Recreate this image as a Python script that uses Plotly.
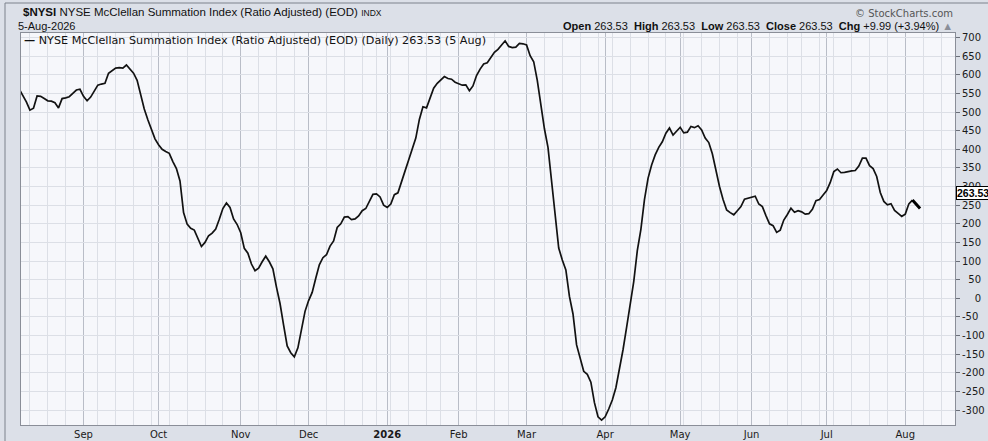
import pandas as pd
import plotly.graph_objects as go

# ---------------- data ----------------
first_day = "2025-08-06"
last_day = "2026-08-05"
holidays = ["2025-09-01", "2025-11-27", "2025-12-25", "2026-01-01", "2026-01-19",
            "2026-02-16", "2026-04-03", "2026-05-25", "2026-06-19", "2026-07-03"]

# daily closes of $NYSI, one per trading day from first_day to last_day
values = [
    562, 545, 527, 505, 510, 543, 542, 536, 530, 529, 525, 511, 536, 538, 541, 550, 559, 561,
    542, 530, 540, 556, 572, 575, 577, 604, 612, 618, 619, 618, 626, 616, 604, 585, 548, 508,
    479, 451, 428,
    412, 400, 394, 389, 367, 348, 315, 230, 199, 188, 183, 160, 139, 150, 168, 175, 186, 212,
    241, 256, 244, 213, 198,
    176, 134, 121, 92, 74, 81, 98, 113, 98, 79, 30, -14, -72, -128, -146, -157, -133, -87, -35,
    -6, 16, 54, 90, 109, 117, 140, 154, 190, 200, 218, 219, 211, 213, 221, 235, 241, 261, 279,
    280, 272, 250,
    244, 253, 278, 283, 310, 342, 371, 400, 430, 480, 514, 511, 535, 564, 577, 586, 595, 590,
    588, 580,
    575, 572, 573, 557, 570, 598, 615, 629, 632, 645, 660, 668, 680, 691, 676, 673, 674, 684, 683,
    680, 651, 635, 585, 520, 455, 405, 315, 225, 135, 103, 76, 5, -42, -125, -163, -196, -204,
    -225, -280, -318, -327,
    -318, -297, -273, -240, -192, -138, -78, -20, 45, 128, 185, 265, 322, 358, 385, 405, 420, 443,
    457, 438, 450,
    459, 444, 446, 461, 458, 463, 452, 430, 418, 388, 340, 300, 265, 237, 230, 224, 235, 246, 266,
    269,
    271, 274, 253, 246, 222, 200, 195, 177, 183, 210, 225, 242, 231, 235, 232, 226, 227, 239, 262,
    265, 277,
    289, 311, 340, 347, 337, 338, 341, 342, 343, 355, 376, 376, 356, 348, 327, 284, 260, 251, 254,
    236, 228, 220,
    226, 253.54, 263.53,
]

month_ticks = ["2025-09-02", "2025-10-01", "2025-11-03", "2025-12-01", "2026-01-02", "2026-02-02",
               "2026-03-02", "2026-04-01", "2026-05-01", "2026-06-01", "2026-07-01", "2026-08-03"]
month_labels = ["Sep", "Oct", "Nov", "Dec", "<b>2026</b>", "Feb", "Mar", "Apr", "May", "Jun",
                "Jul", "Aug"]
y_ticks = list(range(-300, 701, 50))

series_name = "NYSE McClellan Summation Index (Ratio Adjusted) (EOD) (Daily) 263.53 (5 Aug)"

# ---------------- build ----------------
days = pd.bdate_range(first_day, last_day)
days = days[~days.isin(pd.to_datetime(holidays))]
n = min(len(days), len(values))
dates = days[:n]
vals = values[:n]

W, H = 988, 441
L, R, T, B = 21, 33, 33, 16
pw, ph = W - L - R, H - T - B


def px(x):
    return (x - L) / pw


def py(y):
    return (H - B - y) / ph


fig = go.Figure()
fig.add_trace(go.Scatter(x=dates, y=vals, mode="lines",
                         line=dict(color="#121212", width=1.7),
                         name=series_name, showlegend=False, hoverinfo="x+y"))

AX_FONT = dict(family="DejaVu Sans", size=10, color="#1a1a1a")
GRID = "#dcdfe6"

ytext = []
for v in y_ticks:
    s = str(v)
    ytext.append("\u2007" * max(0, 3 - len(s)) + s)

fig.update_layout(
    width=W, height=H,
    margin=dict(l=L, r=R, t=T, b=B, pad=0, autoexpand=False),
    paper_bgcolor="#dce0e8",
    plot_bgcolor="#f6f7fb",
    font=AX_FONT,
    showlegend=False,
    xaxis=dict(
        type="date", automargin=False,
        range=["2025-08-06 12:00", "2026-08-20 22:00"],
        rangebreaks=[dict(bounds=["sat", "mon"]), dict(values=holidays)],
        tickmode="array", tickvals=month_ticks, ticktext=month_labels,
        showgrid=True, gridcolor="#b9bdc7", gridwidth=1,
        ticks="", tickfont=AX_FONT,
        minor=dict(dtick=7 * 86400000, tick0="2025-08-04", showgrid=True,
                   gridcolor=GRID, gridwidth=1, ticks=""),
        showline=True, linecolor="#8a8e98", linewidth=1, mirror=True,
        zeroline=False, fixedrange=True,
    ),
    yaxis=dict(
        side="right", automargin=False,
        range=[-340, 712],
        tickmode="array", tickvals=y_ticks, ticktext=ytext,
        showgrid=True, gridcolor=GRID, gridwidth=1,
        ticks="outside", ticklen=4, tickcolor="#6a6e78", tickfont=AX_FONT,
        showline=True, linecolor="#8a8e98", linewidth=1, mirror=True,
        zeroline=False, fixedrange=True,
    ),
)

HDR = "Liberation Sans"
ann = []
ann.append(dict(xref="paper", yref="paper", x=px(21), y=py(12), xanchor="left", yanchor="middle",
                showarrow=False,
                text="<b>$NYSI</b> NYSE McClellan Summation Index (Ratio Adjusted) (EOD) "
                     "<span style='font-size:8.5px'>INDX</span>",
                font=dict(family=HDR, size=11.5, color="#111")))
ann.append(dict(xref="paper", yref="paper", x=px(16), y=py(26), xanchor="left", yanchor="middle",
                showarrow=False, text="5-Aug-2026",
                font=dict(family=HDR, size=11, color="#111")))
ann.append(dict(xref="paper", yref="paper", x=px(955), y=py(13), xanchor="right",
                yanchor="middle", showarrow=False, text="\u00a9 StockCharts.com",
                font=dict(family="DejaVu Sans", size=10, color="#555")))
ann.append(dict(xref="paper", yref="paper", x=px(955), y=py(26), xanchor="right",
                yanchor="middle", showarrow=False,
                text="<b>Open</b> 263.53  <b>High</b> 263.53  <b>Low</b> 263.53  "
                     "<b>Close</b> 263.53  <b>Chg</b> +9.99 (+3.94%) "
                     "<span style='color:#8a8e98'>\u25b2</span>",
                font=dict(family=HDR, size=11, color="#111")))
ann.append(dict(xref="paper", yref="paper", x=px(22), y=py(40), xanchor="left",
                yanchor="middle", showarrow=False,
                text="<b>\u2014</b> " + series_name,
                font=dict(family="DejaVu Sans", size=11.2, color="#111")))
# last-value marker
ann.append(dict(x=dates[-1], y=vals[-1], xref="x", yref="y", ax=9, ay=10, text="",
                showarrow=True, arrowhead=0, arrowwidth=3, arrowcolor="#000", standoff=0))
ann.append(dict(xref="paper", yref="y", x=1.0, y=vals[-1], xanchor="left", yanchor="middle",
                yshift=7, xshift=1, showarrow=False, text="<b>%.2f</b>" % vals[-1],
                font=dict(family="Liberation Sans", size=10.5, color="#000"),
                bgcolor="#ffffff", bordercolor="#000", borderwidth=1, borderpad=0))
fig.update_layout(annotations=ann)

fig.add_shape(type="line", xref="paper", yref="paper", x0=px(5), x1=px(W + 5), y0=py(3),
              y1=py(3), line=dict(color="#7d828c", width=1))
fig.add_shape(type="line", xref="paper", yref="paper", x0=px(5), x1=px(5), y0=py(3),
              y1=py(H + 5), line=dict(color="#7d828c", width=1))

fig.write_html("out.html",
               config={"displayModeBar": False, "staticPlot": False},
               post_script="document.body.style.margin='0';document.body.style.padding='0';"
                           "document.body.style.overflow='hidden';")
